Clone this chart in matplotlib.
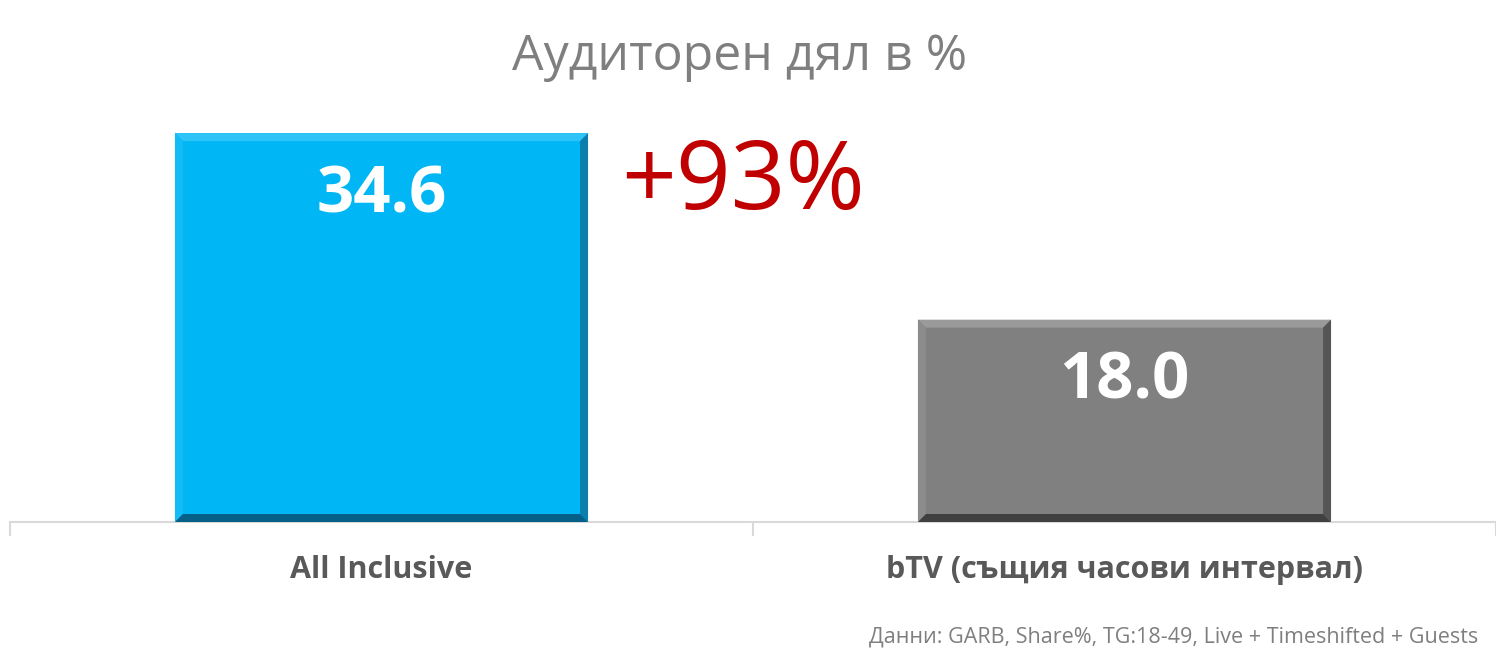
import matplotlib
matplotlib.use("Agg")
import matplotlib.pyplot as plt
from matplotlib.patches import Polygon

plt.rcParams['font.family'] = ['Open Sans', 'DejaVu Sans']

categories = ["All Inclusive", "bTV (същия часови интервал)"]
values = [34.6, 18.0]
value_labels = ["34.6", "18.0"]
title = "Аудиторен дял в %"
diff_label = "+93%"
footnote = "Данни: GARB, Share%, TG:18-49, Live + Timeshifted + Guests"

main_colors = ["#00B6F5", "#808080"]
top_colors = ["#2EC4F8", "#9A9A9A"]
left_colors = ["#14BCF6", "#8C8C8C"]
right_colors = ["#0A7FAE", "#555555"]
bottom_colors = ["#055F86", "#404040"]

W, H, DPI = 14.96, 6.64, 100
fig = plt.figure(figsize=(W, H), dpi=DPI)
ax_left, ax_right = 10 / 1496, 1496 / 1496
ax_bottom = 1 - 522 / 664
ymax = 40
ax_h = (ymax * 11.24) / 664
ax = fig.add_axes([ax_left, ax_bottom, ax_right - ax_left, ax_h])

x = list(range(len(categories)))
bw = 0.556
bars = ax.bar(x, values, width=bw, color=main_colors, zorder=2)
ax.set_xlim(-0.5, len(categories) - 0.5)
ax.set_ylim(0, ymax)

# bevel effect
ax_w_px = (ax_right - ax_left) * W * DPI
ax_h_px = ax_h * H * DPI
bev_px = 8
dx = bev_px / (ax_w_px / len(categories))
dy = bev_px / (ax_h_px / ymax)
for i, b in enumerate(bars):
    x0, x1 = b.get_x(), b.get_x() + b.get_width()
    y0, y1 = 0, b.get_height()
    polys = [
        ([(x0, y1), (x1, y1), (x1 - dx, y1 - dy), (x0 + dx, y1 - dy)], top_colors[i]),
        ([(x0, y0), (x0, y1), (x0 + dx, y1 - dy), (x0 + dx, y0 + dy)], left_colors[i]),
        ([(x1, y0), (x1, y1), (x1 - dx, y1 - dy), (x1 - dx, y0 + dy)], right_colors[i]),
        ([(x0, y0), (x1, y0), (x1 - dx, y0 + dy), (x0 + dx, y0 + dy)], bottom_colors[i]),
    ]
    for pts, c in polys:
        ax.add_patch(Polygon(pts, closed=True, facecolor=c, edgecolor='none', zorder=3))
    ax.annotate(value_labels[i], xy=(b.get_x() + b.get_width() / 2, b.get_height()),
                xytext=(0, -45), textcoords='offset points', ha='center', va='center',
                color='white', fontsize=47, fontweight='bold', zorder=4)

for s in ['top', 'right', 'left']:
    ax.spines[s].set_visible(False)
ax.spines['bottom'].set_color('#D9D9D9')
ax.spines['bottom'].set_linewidth(1.5)
ax.set_yticks([])
ax.set_xticks([-0.5 + k for k in range(len(categories) + 1)], minor=True)
ax.set_xticks(x)
ax.set_xticklabels(categories, fontsize=22, fontweight='bold', color='#595959')
ax.tick_params(axis='x', which='major', length=0, pad=24)
ax.tick_params(axis='x', which='minor', length=10, width=1.5, color='#D9D9D9')

fig.text(740 / 1496, 1 - 57 / 664, title, ha='center', va='center', fontsize=36, color='#7F7F7F')
fig.text(743 / 1496, 1 - 184 / 664, diff_label, ha='center', va='center', fontsize=69, color='#C00000')
fig.text(1478 / 1496, 1 - 637 / 664, footnote, ha='right', va='center', fontsize=15.5, color='#7F7F7F')

fig.savefig("out.png", dpi=DPI)
